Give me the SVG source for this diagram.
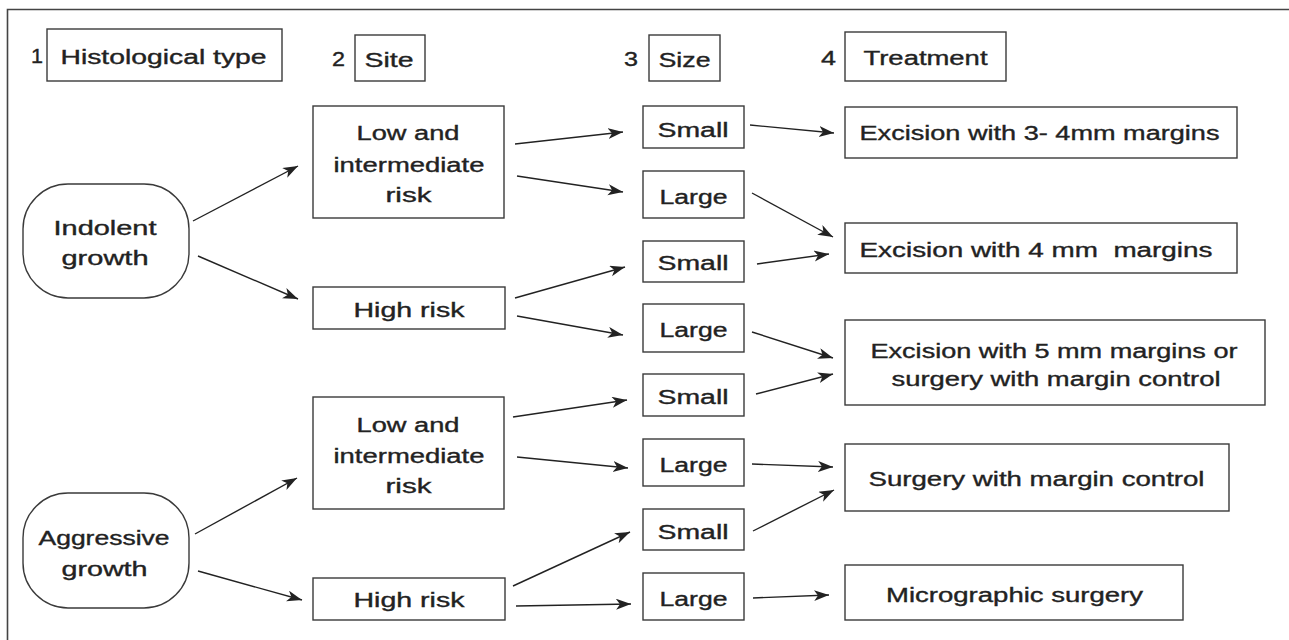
<svg xmlns="http://www.w3.org/2000/svg" width="1289" height="640" viewBox="0 0 1289 640">
  <defs>
    <marker id="ah" markerUnits="userSpaceOnUse" markerWidth="17" markerHeight="12" refX="15" refY="5.5" orient="auto">
      <path d="M0,0 L15,5.5 L0,11 L4,5.5 Z" fill="#222"/>
    </marker>
    <style>
      .box { fill: #fff; stroke: #3a3a3a; stroke-width: 1.4; }
      .t { font-family: "Liberation Sans", Arial, sans-serif; font-size: 19.5px; fill: #222; stroke: #222; stroke-width: 0.35; }
      #connectors line { stroke: #222; stroke-width: 1.4; marker-end: url(#ah); }
    </style>
  </defs>
  <rect width="1289" height="640" fill="#fff"/>
  <path d="M7.5,640 V9.5 H1289" fill="none" stroke="#444" stroke-width="1.6"/>

  <g id="headers">
    <text class="t" x="31" y="63" textLength="12" lengthAdjust="spacingAndGlyphs">1</text>
    <g id="h-histological"><rect class="box" x="47" y="29" width="235" height="52"/>
      <text class="t" x="60.5" y="64" textLength="206" lengthAdjust="spacingAndGlyphs">Histological type</text></g>
    <text class="t" x="332" y="66" textLength="13" lengthAdjust="spacingAndGlyphs">2</text>
    <g id="h-site"><rect class="box" x="355" y="35" width="70" height="46"/>
      <text class="t" x="364.5" y="67" textLength="49" lengthAdjust="spacingAndGlyphs">Site</text></g>
    <text class="t" x="624" y="66" textLength="14" lengthAdjust="spacingAndGlyphs">3</text>
    <g id="h-size"><rect class="box" x="649" y="35" width="71" height="46"/>
      <text class="t" x="658.5" y="67" textLength="52" lengthAdjust="spacingAndGlyphs">Size</text></g>
    <text class="t" x="821" y="65" textLength="15" lengthAdjust="spacingAndGlyphs">4</text>
    <g id="h-treatment"><rect class="box" x="845" y="32" width="161" height="49"/>
      <text class="t" x="863.5" y="65" textLength="124" lengthAdjust="spacingAndGlyphs">Treatment</text></g>
  </g>

  <g id="indolent">
    <rect class="box" x="23" y="184" width="166" height="114" rx="45" ry="45"/>
    <text class="t" x="53.5" y="235" textLength="103" lengthAdjust="spacingAndGlyphs">Indolent</text>
    <text class="t" x="61.5" y="265" textLength="87" lengthAdjust="spacingAndGlyphs">growth</text>
  </g>
  <g id="aggressive">
    <rect class="box" x="23" y="493" width="166" height="115" rx="45" ry="45"/>
    <text class="t" x="38.5" y="545" textLength="131" lengthAdjust="spacingAndGlyphs">Aggressive</text>
    <text class="t" x="61.5" y="576" textLength="86" lengthAdjust="spacingAndGlyphs">growth</text>
  </g>

  <g id="site-li-1">
    <rect class="box" x="313" y="106" width="191" height="112"/>
    <text class="t" x="356.5" y="140" textLength="103" lengthAdjust="spacingAndGlyphs">Low and</text>
    <text class="t" x="333.5" y="172" textLength="151" lengthAdjust="spacingAndGlyphs">intermediate</text>
    <text class="t" x="385.5" y="202" textLength="46" lengthAdjust="spacingAndGlyphs">risk</text>
  </g>
  <g id="site-hr-1">
    <rect class="box" x="313" y="287" width="192" height="42"/>
    <text class="t" x="353.5" y="317" textLength="111" lengthAdjust="spacingAndGlyphs">High risk</text>
  </g>
  <g id="site-li-2">
    <rect class="box" x="313" y="397" width="191" height="112"/>
    <text class="t" x="356.5" y="432" textLength="103" lengthAdjust="spacingAndGlyphs">Low and</text>
    <text class="t" x="333.5" y="463" textLength="151" lengthAdjust="spacingAndGlyphs">intermediate</text>
    <text class="t" x="385.5" y="493" textLength="46" lengthAdjust="spacingAndGlyphs">risk</text>
  </g>
  <g id="site-hr-2">
    <rect class="box" x="313" y="578" width="192" height="42"/>
    <text class="t" x="353.5" y="607" textLength="111" lengthAdjust="spacingAndGlyphs">High risk</text>
  </g>

  <g id="size-small-1"><rect class="box" x="643" y="106" width="101" height="42"/>
    <text class="t" x="657.5" y="137" textLength="71" lengthAdjust="spacingAndGlyphs">Small</text></g>
  <g id="size-large-1"><rect class="box" x="643" y="171" width="101" height="47"/>
    <text class="t" x="659.5" y="204" textLength="68" lengthAdjust="spacingAndGlyphs">Large</text></g>
  <g id="size-small-2"><rect class="box" x="643" y="241" width="101" height="41"/>
    <text class="t" x="657.5" y="270" textLength="71" lengthAdjust="spacingAndGlyphs">Small</text></g>
  <g id="size-large-2"><rect class="box" x="643" y="304" width="101" height="48"/>
    <text class="t" x="659.5" y="337" textLength="68" lengthAdjust="spacingAndGlyphs">Large</text></g>
  <g id="size-small-3"><rect class="box" x="643" y="374" width="101" height="42"/>
    <text class="t" x="657.5" y="404" textLength="71" lengthAdjust="spacingAndGlyphs">Small</text></g>
  <g id="size-large-3"><rect class="box" x="643" y="439" width="101" height="47"/>
    <text class="t" x="659.5" y="472" textLength="68" lengthAdjust="spacingAndGlyphs">Large</text></g>
  <g id="size-small-4"><rect class="box" x="643" y="509" width="101" height="41"/>
    <text class="t" x="657.5" y="539" textLength="71" lengthAdjust="spacingAndGlyphs">Small</text></g>
  <g id="size-large-4"><rect class="box" x="643" y="573" width="101" height="47"/>
    <text class="t" x="659.5" y="606" textLength="68" lengthAdjust="spacingAndGlyphs">Large</text></g>

  <g id="treat-1"><rect class="box" x="845" y="107" width="392" height="51"/>
    <text class="t" x="859.5" y="140" textLength="360" lengthAdjust="spacingAndGlyphs">Excision with 3- 4mm margins</text></g>
  <g id="treat-2"><rect class="box" x="845" y="223" width="392" height="50"/>
    <text class="t" x="859.5" y="257" textLength="353" lengthAdjust="spacingAndGlyphs" xml:space="preserve">Excision with 4 mm  margins</text></g>
  <g id="treat-3"><rect class="box" x="845" y="320" width="420" height="85"/>
    <text class="t" x="870.5" y="358" textLength="367" lengthAdjust="spacingAndGlyphs">Excision with 5 mm margins or</text>
    <text class="t" x="891.5" y="386" textLength="329" lengthAdjust="spacingAndGlyphs">surgery with margin control</text></g>
  <g id="treat-4"><rect class="box" x="845" y="444" width="384" height="67"/>
    <text class="t" x="868.5" y="486" textLength="336" lengthAdjust="spacingAndGlyphs">Surgery with margin control</text></g>
  <g id="treat-5"><rect class="box" x="845" y="565" width="338" height="55"/>
    <text class="t" x="886" y="602" textLength="257" lengthAdjust="spacingAndGlyphs">Micrographic surgery</text></g>

  <g id="connectors">
    <line x1="193" y1="221" x2="298" y2="166"/>
    <line x1="198" y1="256" x2="298" y2="299"/>
    <line x1="195" y1="534" x2="297" y2="478"/>
    <line x1="198" y1="571" x2="302" y2="600"/>

    <line x1="515" y1="144" x2="623" y2="132"/>
    <line x1="517" y1="176" x2="623" y2="192"/>
    <line x1="515" y1="298" x2="625" y2="267"/>
    <line x1="517" y1="316" x2="623" y2="335"/>
    <line x1="513" y1="417" x2="627" y2="400"/>
    <line x1="517" y1="457" x2="628" y2="468"/>
    <line x1="513" y1="586" x2="630" y2="532"/>
    <line x1="516" y1="606" x2="631" y2="604"/>

    <line x1="750" y1="125" x2="834" y2="133"/>
    <line x1="752" y1="193" x2="833" y2="237"/>
    <line x1="757" y1="264" x2="829" y2="254"/>
    <line x1="752" y1="332" x2="833" y2="358"/>
    <line x1="756" y1="394" x2="833" y2="374"/>
    <line x1="752" y1="464" x2="833" y2="467"/>
    <line x1="753" y1="531" x2="834" y2="490"/>
    <line x1="753" y1="598" x2="829" y2="595"/>
  </g>
</svg>
